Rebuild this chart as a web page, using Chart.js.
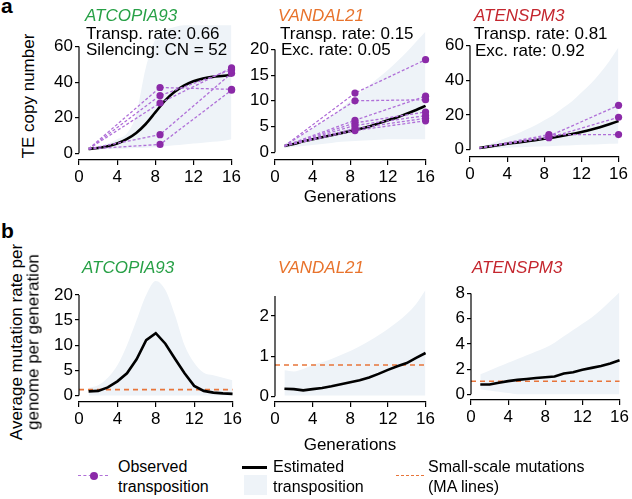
<!DOCTYPE html>
<html>
<head>
<meta charset="utf-8">
<title>TE transposition vs small-scale mutations</title>
<script src="https://cdn.jsdelivr.net/npm/chart.js@4.4.1/dist/chart.umd.min.js"></script>
<style>
  body { margin: 0; background: #fff; font-family: "Liberation Sans", Arial, sans-serif; }
  #fig { position: relative; width: 632px; height: 499px; overflow: hidden; }
  #fig canvas { position: absolute; }
  .t { position: absolute; white-space: nowrap; font-size: 17px; line-height: 1; color: #000; }
  .s { font-size: 16px; }
  .c { transform: translate(-50%, -50%); }
  .l { transform: translate(0, -50%); }
  .r { transform: translate(-50%, -50%) rotate(-90deg); }
  .it { font-style: italic; }
  .pl { font-weight: bold; font-size: 21px; }
  .sw { position: absolute; }
</style>
</head>
<body>
<div id="fig">
  <canvas id="a1"></canvas>
  <canvas id="a2"></canvas>
  <canvas id="a3"></canvas>
  <canvas id="b1"></canvas>
  <canvas id="b2"></canvas>
  <canvas id="b3"></canvas>

  <div class="t pl" style="left:1px;top:-5px">a</div>
  <div class="t pl" style="left:1px;top:220px">b</div>

  <div class="t r" style="left:28px;top:96px">TE copy number</div>
  <div class="t r" style="left:16px;top:342px">Average mutation rate per</div>
  <div class="t r" style="left:33px;top:342px">genome per generation</div>

  <div class="t l it" style="left:85px;top:15px;color:#27a046">ATCOPIA93</div>
  <div class="t l it" style="left:278px;top:15px;color:#e8732c">VANDAL21</div>
  <div class="t l it" style="left:474px;top:15px;color:#c4262e">ATENSPM3</div>
  <div class="t l it" style="left:82px;top:267px;color:#27a046">ATCOPIA93</div>
  <div class="t l it" style="left:278px;top:267px;color:#e8732c">VANDAL21</div>
  <div class="t l it" style="left:472px;top:267px;color:#c4262e">ATENSPM3</div>

  <div class="t l" style="left:86px;top:33px">Transp. rate: 0.66</div>
  <div class="t l" style="left:86px;top:49px">Silencing: CN = 52</div>
  <div class="t l" style="left:280px;top:33px">Transp. rate: 0.15</div>
  <div class="t l" style="left:281px;top:49px">Exc. rate: 0.05</div>
  <div class="t l" style="left:474px;top:33px">Transp. rate: 0.81</div>
  <div class="t l" style="left:475px;top:50px">Exc. rate: 0.92</div>

  <div class="t c" style="left:350px;top:196px">Generations</div>
  <div class="t c" style="left:350px;top:444px">Generations</div>

  <!-- legend -->
  <div class="sw" style="left:78px;top:475px;width:30px;border-top:1.5px dashed #b070d8"></div>
  <div class="sw" style="left:90px;top:472px;width:8px;height:8px;border-radius:50%;background:#8b2aa8"></div>
  <div class="t l s" style="left:118px;top:467px">Observed</div>
  <div class="t l s" style="left:118px;top:487px">transposition</div>
  <div class="sw" style="left:244px;top:475px;width:23px;height:20px;background:#eef3f8"></div>
  <div class="sw" style="left:242px;top:466px;width:25px;height:2.5px;background:#000"></div>
  <div class="t l s" style="left:273px;top:467px">Estimated</div>
  <div class="t l s" style="left:273px;top:487px">transposition</div>
  <div class="sw" style="left:396px;top:475px;width:28px;border-top:1.6px dashed #e8753a"></div>
  <div class="t l s" style="left:428px;top:467px">Small-scale mutations</div>
  <div class="t l s" style="left:428px;top:487px">(MA lines)</div>
</div>

<script>
// generations
const gens = [1, 2, 3, 4, 5, 6, 7, 8, 9, 10, 11, 12, 13, 14, 15, 16];
const obsGens = [1, 8.5, 16];
const maGens = [0, 16];
const genTicks = [0, 4, 8, 12, 16];

// a: TE copy number
const copiaCNTicks = [0, 20, 40, 60];
const copiaCN = [2.5, 3, 4, 5.5, 8, 11.5, 16.5, 23, 29.5, 34.5, 38, 40.5, 42, 43, 43.5, 44];
const copiaCNHi = [3, 4, 5.5, 8, 11, 22, 48, 64, 69, 71, 72, 72, 72, 72, 72, 72];
const copiaCNLo = [2, 2.2, 2.4, 2.6, 2.8, 3, 3.2, 3.5, 4, 4.5, 5, 5.5, 6, 6.5, 7, 8];
const copiaObs = [[2.5, 37, 36], [2.5, 32.5, 47], [2.5, 28.3, 48], [2.5, 10.5, 45], [2.5, 5, 35.5]];

const vandalCNTicks = [0, 5, 10, 15, 20];
const vandalCN = [1.2, 1.6, 2.1, 2.5, 2.9, 3.3, 3.7, 4.1, 4.5, 5.0, 5.6, 6.2, 6.8, 7.5, 8.2, 9.0];
const vandalCNHi = [1.6, 2.5, 3.5, 4.6, 5.8, 7, 8.5, 10, 11.5, 13, 14.5, 16, 17.7, 19.5, 21.5, 23.5];
const vandalCNLo = [0.8, 1, 1.2, 1.4, 1.6, 1.8, 2, 2.1, 2.2, 2.3, 2.4, 2.5, 2.5, 2.5, 2.5, 2.5];
const vandalObs = [[1.2, 11.5, 18], [1.2, 10, 10.2], [1.2, 6.2, 10.9], [1.2, 5.7, 7.8],
                   [1.2, 5.2, 7.1], [1.2, 4.6, 6.6], [1.2, 4.2, 6.1]];

const enspmCNTicks = [0, 20, 40, 60];
const enspmCN = [1.0, 1.8, 2.6, 3.4, 4.1, 4.8, 5.5, 6.3, 7.1, 8.0, 9.0, 10.2, 11.5, 13.0, 14.7, 16.5];
const enspmCNHi = [1.5, 3, 5, 7, 9, 11.5, 14, 17, 20, 24, 28, 33, 38, 44, 51, 59];
const enspmCNLo = [0.6, 0.8, 1, 1.2, 1.4, 1.6, 1.8, 2, 2.2, 2.4, 2.6, 2.8, 3, 3.2, 3.4, 3.6];
const enspmObs = [[1, 8.7, 8.7], [1, 7.8, 25.6], [1, 6.9, 18.7]];

// b: average mutation rate per genome per generation
const copiaRateTicks = [0, 5, 10, 15, 20];
const copiaRate = [0.8, 0.9, 1.6, 2.8, 4.4, 7.2, 11.0, 12.4, 10.3, 7.3, 4.4, 1.9, 0.9, 0.55, 0.4, 0.3];
const copiaRateHi = [1.5, 2, 3.5, 6, 10, 15, 20, 22.8, 21, 16, 10, 6.5, 4.5, 4, 3.5, 3];
const copiaRateLo = [0, 0, 0, 0, 0, 0, 0, 0, 0, 0, 0, 0, 0, 0, 0, 0];
const copiaMA = 1.15;

const vandalRateTicks = [0, 1, 2];
const vandalRate = [0.19, 0.18, 0.15, 0.18, 0.21, 0.25, 0.30, 0.35, 0.40, 0.47, 0.56, 0.66, 0.75, 0.83, 0.96, 1.08];
const vandalRateHi = [0.65, 0.62, 0.68, 0.78, 0.85, 0.93, 1.03, 1.13, 1.25, 1.38, 1.52, 1.68, 1.85, 2.05, 2.3, 2.65];
const vandalRateLo = [0.02, 0.02, 0.02, 0.02, 0.02, 0.02, 0.02, 0.02, 0.02, 0.02, 0.02, 0.02, 0.02, 0.02, 0.02, 0.02];
const vandalMA = 0.78;

const enspmRateTicks = [0, 2, 4, 6, 8];
const enspmRate = [0.78, 0.78, 0.92, 1.05, 1.15, 1.22, 1.3, 1.36, 1.42, 1.65, 1.75, 1.95, 2.1, 2.25, 2.45, 2.7];
const enspmRateHi = [1.6, 1.9, 2.2, 2.5, 2.8, 3.1, 3.4, 3.7, 4.1, 4.6, 5.1, 5.6, 6.1, 6.7, 7.4, 8.1];
const enspmRateLo = [0.4, 0.3, 0.2, 0.1, 0, 0, 0, 0, 0, 0, 0, 0, 0, 0, 0, 0];
const enspmMA = 1.04;

const bandColor = '#eef3f8';
const obsLine = '#b070d8';
const obsDot = '#8b2aa8';
const maColor = '#e8753a';

Chart.defaults.font.family = '"Liberation Sans", Arial, sans-serif';
Chart.defaults.font.size = 17;
Chart.defaults.color = '#000';

// y axis line only spans the tick range (gap at the corner)
const yAxisLine = {
    id: 'yAxisLine',
    afterDraw(chart, args, opts) {
        const { ctx, chartArea } = chart;
        const y = chart.scales.y;
        ctx.save();
        ctx.strokeStyle = '#000';
        ctx.lineWidth = 1.2;
        ctx.beginPath();
        ctx.moveTo(chartArea.left, y.getPixelForValue(0));
        ctx.lineTo(chartArea.left, y.getPixelForValue(opts.top));
        ctx.stroke();
        ctx.restore();
    }
};
Chart.register(yAxisLine);

function xy(xs, ys) {
    return xs.map((x, i) => ({ x: x, y: ys[i] }));
}

function obsSets(list) {
    return list.map(vals => ({
        data: xy(obsGens, vals),
        borderColor: obsLine,
        borderWidth: 1.3,
        borderDash: [3, 2],
        pointRadius: [0, 3.6, 3.6],
        pointBackgroundColor: obsDot,
        pointBorderWidth: 0,
        fill: false,
        clip: false
    }));
}

function estSet(vals, smooth) {
    return {
        data: xy(gens, vals),
        borderColor: '#000',
        borderWidth: 2.6,
        tension: smooth ? 0.4 : 0,
        cubicInterpolationMode: smooth ? 'monotone' : 'default',
        fill: false,
        clip: false
    };
}

function maSet(v) {
    return {
        data: xy(maGens, [v, v]),
        borderColor: maColor,
        borderWidth: 1.6,
        borderDash: [5, 4],
        fill: false,
        clip: false
    };
}

function bandSets(hi, lo) {
    return [
        { data: xy(gens, hi), borderWidth: 0, borderColor: 'rgba(0,0,0,0)', backgroundColor: bandColor,
          fill: '+1', tension: 0.4, cubicInterpolationMode: 'monotone' },
        { data: xy(gens, lo), borderWidth: 0, borderColor: 'rgba(0,0,0,0)', fill: false,
          tension: 0.4, cubicInterpolationMode: 'monotone' }
    ];
}

// box: page pixels of chart area and of y = 0 / top tick
function makePanel(id, box, yTicks, axisTop, datasets) {
    const yw = 40, xh = 28, padR = 9, padT = 4;
    const canvas = document.getElementById(id);
    const cl = box.left - yw, ct = box.top - padT;
    canvas.width = box.right + padR - cl;
    canvas.height = box.bottom + xh - ct;
    canvas.style.left = cl + 'px';
    canvas.style.top = ct + 'px';
    const k = (box.zero - box.tick) / yTicks[yTicks.length - 1];
    const tickStyle = { color: '#000', font: { size: 17 }, autoSkip: false, maxRotation: 0, padding: 2,
                        callback: v => String(v) };
    const gridStyle = { display: true, drawOnChartArea: false, drawTicks: true, tickLength: 5,
                        color: '#000', lineWidth: 1.2 };
    return new Chart(canvas, {
        type: 'line',
        data: { datasets: datasets },
        options: {
            responsive: false,
            animation: false,
            devicePixelRatio: 1,
            layout: { autoPadding: false, padding: { left: 0, right: padR, top: padT, bottom: 0 } },
            plugins: { legend: { display: false }, tooltip: { enabled: false }, yAxisLine: { top: axisTop } },
            elements: { point: { radius: 0 } },
            scales: {
                x: {
                    type: 'linear', min: 0, max: 16,
                    grid: gridStyle,
                    border: { display: true, color: '#000', width: 1.2 },
                    ticks: tickStyle,
                    afterBuildTicks: s => { s.ticks = genTicks.map(v => ({ value: v })); },
                    afterFit: s => { s.height = xh; }
                },
                y: {
                    type: 'linear',
                    min: -(box.bottom - box.zero) / k,
                    max: (box.zero - box.top) / k,
                    grid: Object.assign({}, gridStyle, { tickLength: 4 }),
                    border: { display: false },
                    ticks: tickStyle,
                    afterBuildTicks: s => { s.ticks = yTicks.map(v => ({ value: v })); },
                    afterFit: s => { s.width = yw; }
                }
            }
        }
    });
}

makePanel('a1', { left: 79, right: 234, top: 4, zero: 153, tick: 40.3, bottom: 160 }, copiaCNTicks, 60,
    [...obsSets(copiaObs), estSet(copiaCN, true), ...bandSets(copiaCNHi, copiaCNLo)]);
makePanel('a2', { left: 275, right: 428, top: 4, zero: 151.7, tick: 43.3, bottom: 160 }, vandalCNTicks, 20,
    [...obsSets(vandalObs), estSet(vandalCN, true), ...bandSets(vandalCNHi, vandalCNLo)]);
makePanel('a3', { left: 470, right: 621, top: 4, zero: 149.3, tick: 39.3, bottom: 157 }, enspmCNTicks, 60,
    [...obsSets(enspmObs), estSet(enspmCN, true), ...bandSets(enspmCNHi, enspmCNLo)]);

makePanel('b1', { left: 79, right: 235, top: 262, zero: 395, tick: 288.3, bottom: 402 }, copiaRateTicks, 20,
    [estSet(copiaRate, false), maSet(copiaMA), ...bandSets(copiaRateHi, copiaRateLo)]);
makePanel('b2', { left: 275, right: 428, top: 262, zero: 396, tick: 310.7, bottom: 402 }, vandalRateTicks, 2.5,
    [estSet(vandalRate, false), maSet(vandalMA), ...bandSets(vandalRateHi, vandalRateLo)]);
makePanel('b3', { left: 471, right: 622, top: 262, zero: 394, tick: 286.7, bottom: 400 }, enspmRateTicks, 8,
    [estSet(enspmRate, false), maSet(enspmMA), ...bandSets(enspmRateHi, enspmRateLo)]);
</script>
</body>
</html>
